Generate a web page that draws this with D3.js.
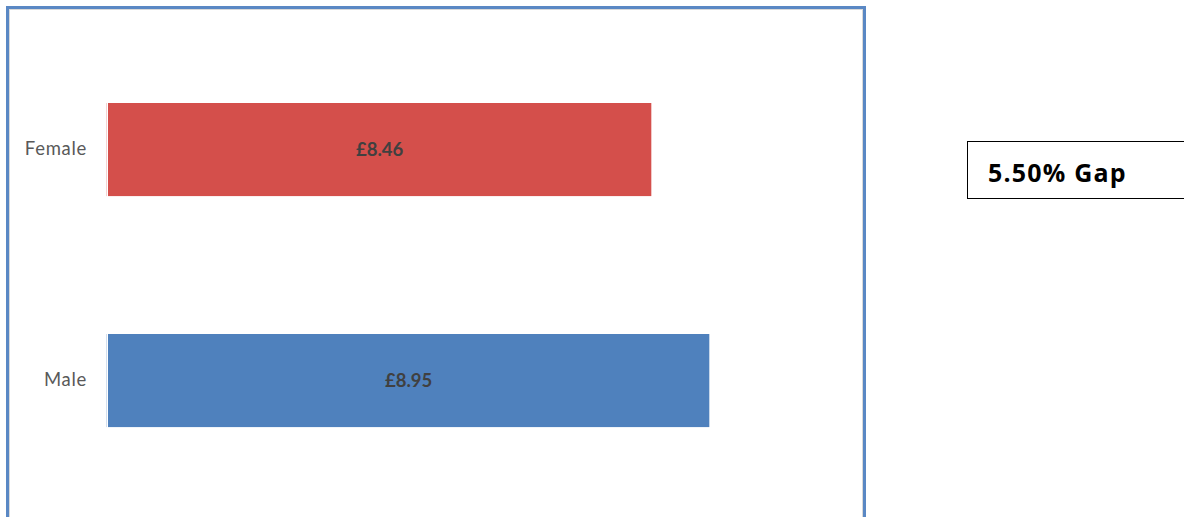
<!DOCTYPE html>
<html>
<head>
<meta charset="utf-8">
<script src="https://cdn.jsdelivr.net/npm/d3@7"></script>
<style>
  body { margin: 0; background: #fff; }
  svg { display: block; }
</style>
</head>
<body>
<div id="chart"></div>
<script>
/* Hourly pay by gender, horizontal bars */

const categories = ["Female", "Male"];
const payValues = [8.46, 8.95];
const barLabels = ["£8.46", "£8.95"];
const gapText = "5.50% Gap";

const width = 1184;
const height = 517;
const margin = ({ top: 34, right: 348, left: 108, bottom: 20 });

const svg = d3.select("#chart")
    .append("svg")
    .attr("width", width)
    .attr("height", height);

// outer chart frame (blue edge with a grey inner shadow)
svg.append("rect")
    .attr("x", 7.5).attr("y", 7.5)
    .attr("width", 857).attr("height", 530)
    .attr("fill", "none")
    .attr("stroke", "#5a88c4")
    .attr("stroke-width", 3);
svg.append("rect")
    .attr("x", 9.5).attr("y", 9.5)
    .attr("width", 853).attr("height", 530)
    .attr("fill", "none")
    .attr("stroke", "#d9d9d9")
    .attr("stroke-width", 1);

const xMin = 3.87; // axis does not start at zero
const x = d3.scaleLinear()
    .domain([xMin, 10])
    .range([margin.left, 833.6]);

const y = d3.scaleBand()
    .domain(categories)
    .range([33.7, 496.4])
    .paddingInner(0.597)
    .paddingOuter(0.3);

const colors = ["#d44f4b", "#4f81bd"];

const yAxis = g => g
    .attr("transform", `translate(${margin.left - 21}, 0)`)
    .call(d3.axisLeft(y).tickSize(0).tickPadding(0))
    .call(g => g.select(".domain").remove())
    .call(g => g.selectAll("text")
        .attr("font-family", "Lato, 'Open Sans', sans-serif")
        .attr("font-size", 18.5)
        .attr("letter-spacing", "0.7px")
        .attr("fill", "#595959"));

svg.append("g").call(yAxis);

const bar = svg.selectAll(".bar")
    .data(categories)
    .join("g")
    .attr("class", "bar");

// faint edge just left of each bar
bar.append("rect")
    .attr("x", x(xMin) - 2)
    .attr("y", d => y(d))
    .attr("width", 1)
    .attr("height", y.bandwidth())
    .attr("fill", (d, i) => colors[i])
    .attr("opacity", 0.25);

bar.append("rect")
    .attr("x", x(xMin))
    .attr("y", d => y(d))
    .attr("width", (d, i) => x(payValues[i]) - x(xMin))
    .attr("height", y.bandwidth())
    .attr("fill", (d, i) => colors[i]);

bar.append("text")
    .text((d, i) => barLabels[i])
    .attr("x", (d, i) => (x(xMin) + x(payValues[i])) / 2)
    .attr("y", d => y(d) + y.bandwidth() / 2)
    .attr("dy", "0.35em")
    .attr("text-anchor", "middle")
    .attr("font-family", "Lato, 'Open Sans', sans-serif")
    .attr("font-weight", "bold")
    .attr("font-size", 18.5)
    .attr("fill", "#404040");

// gap annotation box
svg.append("rect")
    .attr("x", 967.5).attr("y", 141.5)
    .attr("width", 240).attr("height", 57)
    .attr("fill", "#fff")
    .attr("stroke", "#000")
    .attr("stroke-width", 1);

svg.append("text")
    .text(gapText)
    .attr("x", 988)
    .attr("y", 182)
    .attr("font-family", "'Open Sans', Lato, sans-serif")
    .attr("font-weight", "bold")
    .attr("font-size", 25)
    .attr("letter-spacing", "1.2px")
    .attr("fill", "#000");
</script>
</body>
</html>
